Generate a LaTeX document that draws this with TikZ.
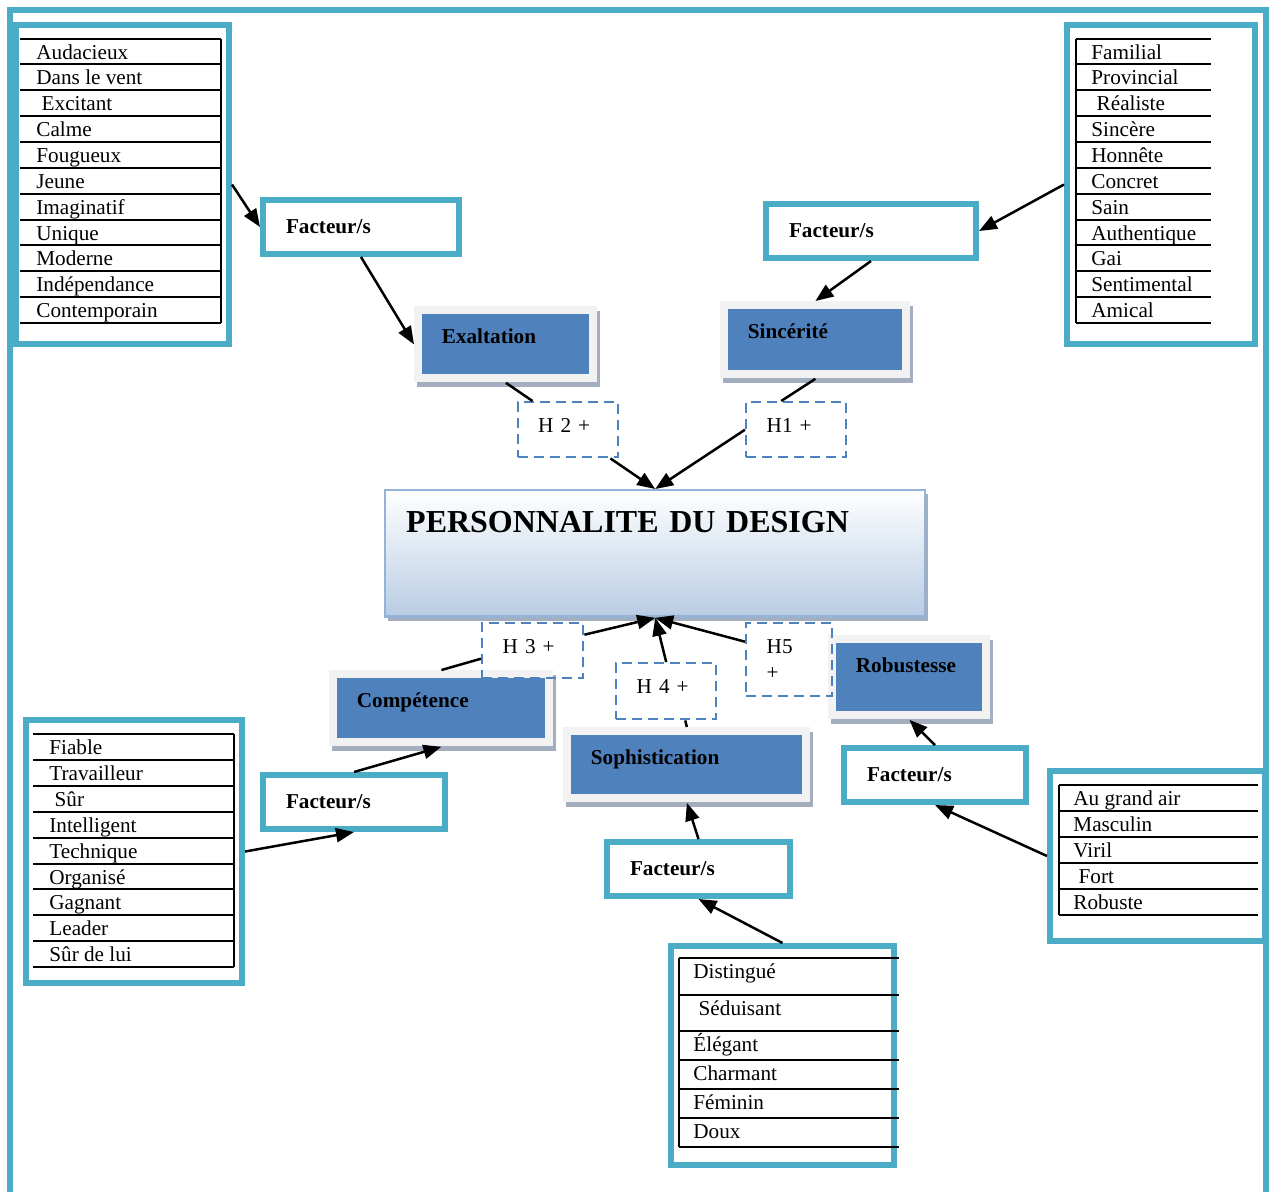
\documentclass[tikz,border=0pt]{standalone}
\usepackage{fontspec}
\setmainfont{Liberation Serif}
\usetikzlibrary{positioning,arrows.meta,shadows}

\definecolor{cadre}{HTML}{4BACC6}
\definecolor{bleu}{HTML}{4F81BD}
\definecolor{clair}{HTML}{F2F2F2}
\definecolor{ombre}{HTML}{A3AEBF}
\definecolor{titrebord}{HTML}{95B3D7}
\definecolor{titremil}{HTML}{CCDAEC}
\definecolor{titrebas}{HTML}{B8CCE4}

\begin{document}
\begin{tikzpicture}[x=0.5pt,y=-0.5pt,
  every node/.style={font=\fontsize{10.6}{13}\selectfont},
  liste/.style 2 args={draw=cadre,line width=3pt,fill=white,outer sep=1.5pt,inner sep=0pt,anchor=north west,minimum width=#1,minimum height=#2},
  mot/.style={anchor=base west,inner sep=0pt},
  regle/.style={line width=1pt},
  facteur/.style={draw=cadre,line width=3pt,fill=white,outer sep=1.5pt,anchor=north west,align=left,inner xsep=11.5pt,minimum height=27pt,text width=#1,font=\fontsize{10.6}{13}\selectfont\bfseries},
  dimension/.style 2 args={fill=clair,drop shadow={shadow xshift=1.5pt,shadow yshift=-2.5pt,opacity=1,fill=ombre},
    path picture={\fill[bleu] ([shift={(4pt,-4pt)}]path picture bounding box.north west) rectangle ([shift={(-4pt,4pt)}]path picture bounding box.south east);},
    anchor=north west,align=left,inner xsep=13.75pt,inner ysep=11.5pt,text height=7pt,text width=#1,text depth=#2,font=\fontsize{10.6}{13}\selectfont\bfseries},
  titre/.style={draw=titrebord,line width=1.2pt,top color=white,middle color=titremil,bottom color=titrebas,
    drop shadow={shadow xshift=1.5pt,shadow yshift=-2pt,opacity=1,fill=ombre},
    anchor=north west,align=left,inner xsep=10.5pt,inner ysep=10.3pt,text height=10.6pt,text depth=32pt,text width=249pt,
    font=\fontsize{16}{19}\selectfont\bfseries},
  hyp/.style 2 args={draw=bleu,line width=1.2pt,dash pattern=on 5pt off 3pt,anchor=north west,align=left,inner xsep=10.25pt,inner ysep=8pt,text height=7pt,text width=#1,text depth=#2},
  lien/.style={-{Triangle[length=9pt,width=7pt]},line width=1.25pt},
  trait/.style={line width=1.25pt}]

  \useasboundingbox (0,0) rectangle (1271,1191);
  \draw[cadre,line width=3pt] (10,1200) -- (10,10) -- (1266,10) -- (1266,1200);

  \node[liste={106.5pt}{159.5pt}] (lexa) at (13,22) {};
  \node[liste={94pt}{159.5pt}] (lsinc) at (1064,22) {};
  \node[liste={108pt}{131.5pt}] (lcom) at (23,717) {};
  \node[liste={111.5pt}{109.5pt}] (lsop) at (668,943) {};
  \node[liste={107.5pt}{85pt}] (lrob) at (1047,768) {};

  \foreach \i in {0,...,11} \draw[regle] (20,38.5+\i*25.86) -- (221,38.5+\i*25.86);
  \draw[regle] (221,38.5) -- (221,323);
  \foreach \w [count=\i from 0] in {Audacieux,Dans le vent,\ Excitant,Calme,Fougueux,Jeune,Imaginatif,Unique,Moderne,Indépendance,Contemporain}
    \node[mot] (lexa-\i) at (36,59+\i*25.86) {\w};

  \foreach \i in {0,...,11} \draw[regle] (1076,38.5+\i*25.86) -- (1211,38.5+\i*25.86);
  \draw[regle] (1076,38.5) -- (1076,323);
  \foreach \w [count=\i from 0] in {Familial,Provincial,\ Réaliste,Sincère,Honnête,Concret,Sain,Authentique,Gai,Sentimental,Amical}
    \node[mot] (lsinc-\i) at (1091,59+\i*25.86) {\w};

  \foreach \i in {0,...,9} \draw[regle] (33,734+\i*25.9) -- (234,734+\i*25.9);
  \draw[regle] (234,734) -- (234,967.1);
  \foreach \w [count=\i from 0] in {Fiable,Travailleur,\ Sûr,Intelligent,Technique,Organisé,Gagnant,Leader,Sûr de lui}
    \node[mot] (lcom-\i) at (49,754.5+\i*25.9) {\w};

  \foreach \y in {958,995,1031,1060,1089,1118,1147} \draw[regle] (679,\y) -- (899,\y);
  \draw[regle] (679,958) -- (679,1147);
  \foreach \w/\y [count=\i] in {Distingué/958,\ Séduisant/995,Élégant/1031,Charmant/1060,Féminin/1089,Doux/1118}
    \node[mot] (lsop-\i) at (693,\y+20.5) {\w};

  \foreach \i in {0,...,5} \draw[regle] (1059,785+\i*26) -- (1258,785+\i*26);
  \draw[regle] (1059,785) -- (1059,915);
  \foreach \w [count=\i from 0] in {Au grand air,Masculin,Viril,\ Fort,Robuste}
    \node[mot] (lrob-\i) at (1073,805.5+\i*26) {\w};

  \node[facteur=75pt] (fexa) at (260,197) {Facteur/s};
  \node[facteur=82pt] (fsinc) at (763,201) {Facteur/s};
  \node[facteur=68pt] (fcom) at (260,772) {Facteur/s};
  \node[facteur=68.5pt] (fsop) at (604,839) {Facteur/s};
  \node[facteur=68pt] (frob) at (841,745) {Facteur/s};

  \node[dimension={64pt}{8pt}] (exa) at (414,306) {Exaltation};
  \node[dimension={67.5pt}{8.5pt}] (sinc) at (720,301) {Sincérité};
  \node[dimension={84.5pt}{8pt}] (com) at (329,670) {Compétence};
  \node[dimension={96pt}{7.5pt}] (sop) at (563,727) {Sophistication};
  \node[dimension={53.5pt}{12pt}] (rob) at (828,635) {Robustesse};

  \node[titre] (pers) at (384,489) {PERSONNALITE DU DESIGN};

  \node[hyp={29.75pt}{4.5pt}] (h2) at (516.5,401) {H 2 +};
  \node[hyp={29.5pt}{4.5pt}] (h1) at (745,401) {H1 +};
  \node[hyp={30pt}{4.5pt}] (h3) at (481,622) {H 3 +};
  \node[hyp={29.5pt}{5pt}] (h4) at (615,662) {H 4 +};
  \node[hyp={22.5pt}{13.5pt}] (h5) at (745,622) {H5\\+};

  \path[lien] (lexa.east) edge (fexa.west);
  \path[lien] (fexa.south) edge (exa.west);
  \path[lien] (lsinc.west) edge (fsinc.east);
  \path[lien] (fsinc.south) edge (sinc.north);
  \path[trait] (exa.south) edge ([xshift=8pt]h2.north west);
  \path[trait] (sinc.south) edge ([xshift=-7.5pt]h1.north);
  \path[lien] ([xshift=-4.5pt]h2.south east) edge (pers.north);
  \path[lien] (h1.west) edge (pers.north);
  \path[trait] (com.north) edge ([yshift=-4pt]h3.west);
  \path[lien] ([yshift=8pt]h3.east) edge (pers.south);
  \path[trait] (sop.north) edge ([xshift=9.5pt]h4.south);
  \path[lien] (h4.north) edge (pers.south);
  \path[lien] ([yshift=9pt]h5.west) edge (pers.south);
  \path[lien] (lcom.east) edge (fcom.south);
  \path[lien] (fcom.north) edge (com.south);
  \path[lien] (lsop.north) edge (fsop.south);
  \path[lien] (fsop.north) edge (sop.south);
  \path[lien] (lrob.west) edge (frob.south);
  \path[lien] (frob.north) edge (rob.south);

\end{tikzpicture}
\end{document}
